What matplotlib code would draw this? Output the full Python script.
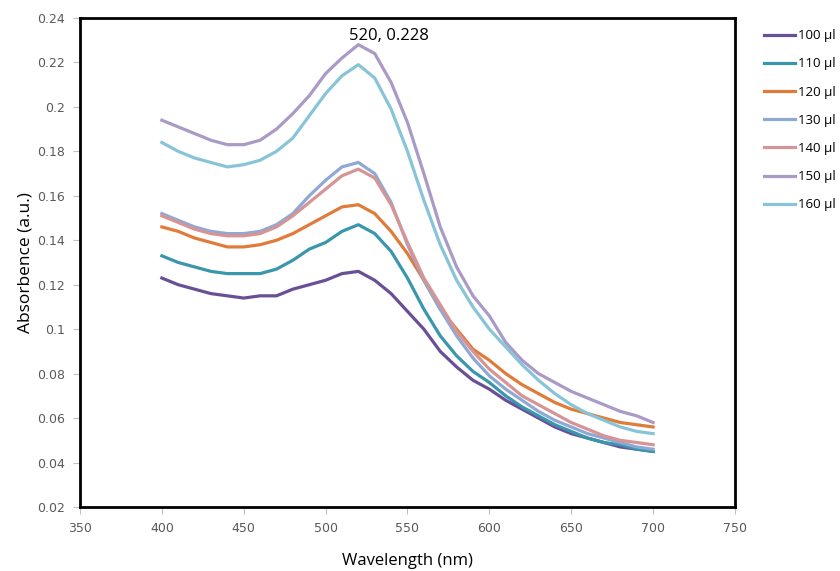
import numpy as np
import matplotlib
matplotlib.use("Agg")
import matplotlib.pyplot as plt

## data
wavelength = list(range(400, 701, 10))

a_100 = [0.123, 0.120, 0.118, 0.116, 0.115, 0.114, 0.115, 0.115, 0.118, 0.120,
         0.122, 0.125, 0.126, 0.122, 0.116, 0.108, 0.100, 0.090, 0.083, 0.077,
         0.073, 0.068, 0.064, 0.060, 0.056, 0.053, 0.051, 0.049, 0.047, 0.046, 0.045]
a_110 = [0.133, 0.130, 0.128, 0.126, 0.125, 0.125, 0.125, 0.127, 0.131, 0.136,
         0.139, 0.144, 0.147, 0.143, 0.135, 0.123, 0.109, 0.097, 0.088, 0.081,
         0.076, 0.070, 0.065, 0.061, 0.057, 0.054, 0.051, 0.049, 0.048, 0.046, 0.045]
a_120 = [0.146, 0.144, 0.141, 0.139, 0.137, 0.137, 0.138, 0.140, 0.143, 0.147,
         0.151, 0.155, 0.156, 0.152, 0.144, 0.134, 0.122, 0.109, 0.100, 0.091,
         0.086, 0.080, 0.075, 0.071, 0.067, 0.064, 0.062, 0.060, 0.058, 0.057, 0.056]
a_130 = [0.152, 0.149, 0.146, 0.144, 0.143, 0.143, 0.144, 0.147, 0.152, 0.160,
         0.167, 0.173, 0.175, 0.170, 0.157, 0.138, 0.122, 0.109, 0.097, 0.087,
         0.079, 0.073, 0.068, 0.063, 0.059, 0.056, 0.053, 0.051, 0.049, 0.047, 0.046]
a_140 = [0.151, 0.148, 0.145, 0.143, 0.142, 0.142, 0.143, 0.146, 0.151, 0.157,
         0.163, 0.169, 0.172, 0.168, 0.156, 0.139, 0.123, 0.111, 0.099, 0.090,
         0.082, 0.076, 0.070, 0.066, 0.062, 0.058, 0.055, 0.052, 0.050, 0.049, 0.048]
a_150 = [0.194, 0.191, 0.188, 0.185, 0.183, 0.183, 0.185, 0.190, 0.197, 0.205,
         0.215, 0.222, 0.228, 0.224, 0.211, 0.193, 0.170, 0.146, 0.128, 0.115,
         0.106, 0.094, 0.086, 0.080, 0.076, 0.072, 0.069, 0.066, 0.063, 0.061, 0.058]
a_160 = [0.184, 0.180, 0.177, 0.175, 0.173, 0.174, 0.176, 0.180, 0.186, 0.196,
         0.206, 0.214, 0.219, 0.213, 0.199, 0.180, 0.158, 0.138, 0.122, 0.110,
         0.100, 0.092, 0.084, 0.077, 0.071, 0.066, 0.062, 0.059, 0.056, 0.054, 0.053]

labels = ["100 µl", "110 µl", "120 µl", "130 µl", "140 µl", "150 µl", "160 µl"]
series = [a_100, a_110, a_120, a_130, a_140, a_150, a_160]
colors = ["#6b4f96", "#3a96ad", "#e07b39", "#8ea9d6", "#d69594", "#a99ac6", "#88c4d8"]

x_ticks = [350, 400, 450, 500, 550, 600, 650, 700, 750]
y_ticks = [0.02, 0.04, 0.06, 0.08, 0.1, 0.12, 0.14, 0.16, 0.18, 0.2, 0.22, 0.24]
y_tick_labels = ["0.02", "0.04", "0.06", "0.08", "0.1", "0.12", "0.14", "0.16",
                 "0.18", "0.2", "0.22", "0.24"]

peak_label = "520, 0.228"

## chart
fig = plt.figure(figsize=(8.4, 5.71), dpi=100)
ax = fig.add_axes([0.0952, 0.1121, 0.7798, 0.8564])

for vals, lab, col in zip(series, labels, colors):
    ax.plot(wavelength, vals, color=col, linewidth=2.3, label=lab)

ax.set_xlim(350, 750)
ax.set_ylim(0.02, 0.24)
ax.set_xticks(x_ticks)
ax.set_yticks(y_ticks)
ax.set_yticklabels(y_tick_labels)

for s in ax.spines.values():
    s.set_linewidth(2.0)
    s.set_color("black")

ax.tick_params(axis="both", direction="out", length=5, width=0.8, color="#bfbfbf",
               labelsize=9, labelcolor="#595959", pad=6)
for t in ax.get_xticklabels() + ax.get_yticklabels():
    t.set_family("Liberation Sans Narrow")

ax.set_xlabel("Wavelength (nm)", fontsize=12, family="Open Sans", labelpad=13)
ax.set_ylabel("Absorbence (a.u.)", fontsize=12.5, family="Open Sans", labelpad=2)

# data label sits up and to the right of the peak point
ax.annotate(peak_label, xy=(520, 0.228), xytext=(22, 6), textcoords="offset points",
            ha="center", va="center", fontsize=12, family="Open Sans")

fig.legend(loc="upper left", bbox_to_anchor=(0.903, 0.958), frameon=False,
           prop={"family": "Open Sans", "size": 9.5}, handlelength=2.4,
           handletextpad=0.2, labelspacing=1.15, borderaxespad=0)

plt.savefig("out.png", dpi=100)
